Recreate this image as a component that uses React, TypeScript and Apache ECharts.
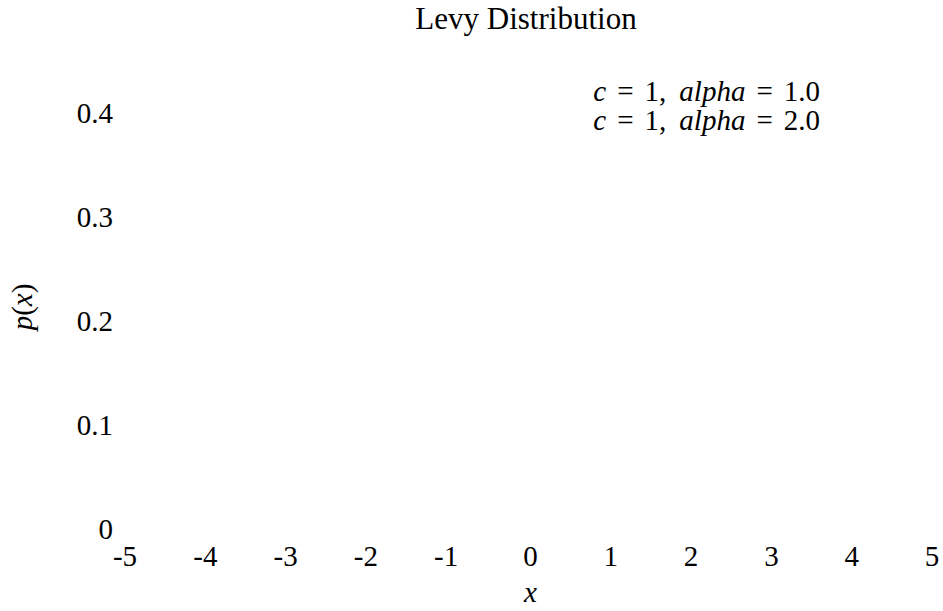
import React, { useEffect, useRef } from "react";
import * as echarts from "echarts";

const TITLE = "Levy Distribution";
const seriesNames = ["c = 1, alpha = 1.0", "c = 1, alpha = 2.0"];
const alphaLabels = ["1.0", "2.0"];
// No curves are visible in the reference plot: both series are empty.
const seriesAlpha1: [number, number][] = [];
const seriesAlpha2: [number, number][] = [];
const xRange = [-5, 5];
const yRange = [0, 0.4];

const FONT = "'Liberation Serif', 'DejaVu Serif', serif";

export default function App() {
  const ref = useRef<HTMLDivElement>(null);
  useEffect(() => {
    if (!ref.current) return;
    const chart = echarts.init(ref.current, undefined, { renderer: "svg" });
    const rich = {
      i: { fontStyle: "italic" as const, fontFamily: FONT, fontSize: 29, color: "#000" },
      n: { fontFamily: FONT, fontSize: 29, color: "#000" },
      eq: { fontFamily: FONT, fontSize: 29, color: "#000", padding: [0, 11, 0, 11] },
      cm: { fontFamily: FONT, fontSize: 29, color: "#000", padding: [0, 13, 0, 0] },
    };
    const tickRich = {
      neg: { fontFamily: FONT, fontSize: 29, color: "#000", padding: [0, 8, 0, 0] },
      pos: { fontFamily: FONT, fontSize: 29, color: "#000" },
    };
    chart.setOption({
      animation: false,
      backgroundColor: "#fff",
      textStyle: { fontFamily: FONT, color: "#000" },
      title: {
        text: TITLE,
        left: 526,
        top: 3,
        padding: 0,
        textAlign: "center",
        textStyle: { fontFamily: FONT, fontSize: 31, fontWeight: "normal", color: "#000" },
      },
      legend: {
        orient: "vertical",
        right: 123,
        top: 76,
        padding: 0,
        itemGap: 0,
        itemWidth: 0,
        itemHeight: 28,
        icon: "none",
        selectedMode: false,
        data: seriesNames,
        formatter: (name: string) => {
          const idx = seriesNames.indexOf(name);
          return `{i|c}{eq|=}{cm|1,}{i|alpha}{eq|=}{n|${alphaLabels[idx]}}`;
        },
        textStyle: { fontFamily: FONT, fontSize: 29, color: "#000", rich },
      },
      grid: { left: 129, right: 11, top: 113, bottom: 76, containLabel: false },
      xAxis: {
        type: "value",
        min: xRange[0],
        max: xRange[1],
        interval: 1,
        name: "{i|x}",
        nameLocation: "middle",
        nameGap: 48,
        nameTextStyle: { rich },
        axisLine: { show: false },
        axisTick: { show: false },
        splitLine: { show: false },
        axisLabel: {
          margin: 12,
          fontFamily: FONT,
          fontSize: 29,
          color: "#000",
          rich: tickRich,
          formatter: (v: number) => (v < 0 ? `{neg|${v}}` : `{pos|${v}}`),
        },
      },
      yAxis: {
        type: "value",
        min: yRange[0],
        max: yRange[1],
        interval: 0.1,
        axisLine: { show: false },
        axisTick: { show: false },
        splitLine: { show: false },
        axisLabel: { margin: 16, fontFamily: FONT, fontSize: 29, color: "#000" },
      },
      graphic: [
        {
          type: "text",
          x: 22,
          y: 307,
          rotation: Math.PI / 2,
          style: {
            text: "{i|p}{n|(}{i|x}{n|)}",
            rich,
            align: "center",
            verticalAlign: "middle",
            fill: "#000",
          },
        },
      ],
      series: [
        { type: "line", name: seriesNames[0], data: seriesAlpha1, showSymbol: false },
        { type: "line", name: seriesNames[1], data: seriesAlpha2, showSymbol: false },
      ],
    });
    return () => chart.dispose();
  }, []);
  return <div ref={ref} style={{ width: 943, height: 611, position: "fixed", left: 0, top: 0 }} />;
}
